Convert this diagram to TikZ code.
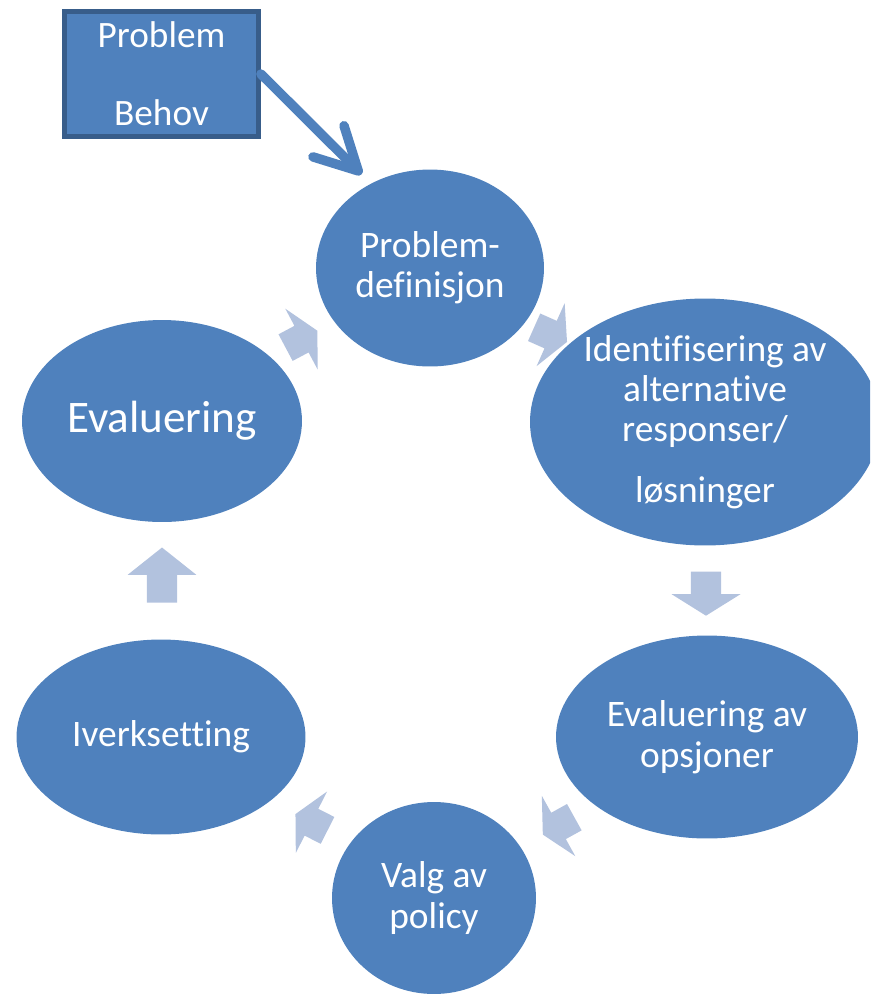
\documentclass[tikz,border=0pt]{standalone}
\usepackage{fontspec}
\setmainfont{Carlito}[Ligatures=NoCommon]
\usepackage{xcolor}
\usetikzlibrary{arrows.meta, positioning, shapes.geometric, shapes.arrows}

\definecolor{stageblue}{RGB}{79,129,189}
\definecolor{stageline}{RGB}{56,93,138}
\definecolor{cyclegray}{RGB}{178,194,222}

\begin{document}
\begin{tikzpicture}[
  x=0.02cm, y=0.02cm,
  stage/.style={ellipse, fill=stageblue, text=white, inner sep=0pt, align=center,
    font=\fontsize{21.3}{23}\selectfont},
  inbox/.style={draw=stageline, line width=2.8pt, fill=stageblue, text=white,
    minimum width=3.88cm, minimum height=2.5cm, align=center,
    font=\fontsize{21.2}{24}\selectfont},
  feed/.style={-{Straight Barb[length=8.4mm, width=8.8mm, round]}, line width=5.4pt,
    draw=stageblue, line cap=round},
  cyclearrow/.style={single arrow, fill=cyclegray, inner xsep=0pt, inner ysep=0.21cm,
    minimum width=1.38cm, single arrow head extend=0.28cm, minimum height=0.72cm,
    single arrow tip angle=125},
]

\useasboundingbox (0,0) rectangle (870,-994);
\clip (0,0) rectangle (870,-994);

% --- Input box
\node[inbox] (need) at (161.5,-74) {Problem\\[0.72cm]Behov};

% --- Stages of the cycle
\node[stage, minimum width=4.56cm, minimum height=3.94cm] (def) at (430,-268)
  {Problem-\\definisjon};
\node[stage, minimum width=7cm, minimum height=4.94cm] (ident) at (705,-422)
  {Identifisering av\\alternative\\responser/\\[0.4cm]løsninger};
\node[stage, minimum width=6.04cm, minimum height=4.06cm] (opt) at (707,-737)
  {Evaluering av\\opsjoner};
\node[stage, minimum width=4.08cm, minimum height=3.84cm] (choice) at (434,-898)
  {Valg av\\policy};
\node[stage, minimum width=5.78cm, minimum height=3.9cm] (impl) at (161,-737)
  {Iverksetting};
\node[stage, minimum width=5.6cm, minimum height=4.04cm,
  font=\fontsize{25.7}{30}\selectfont] (eval) at (162,-421) {Evaluering};

% --- Block arrows between stages
\node[cyclearrow, rotate=-24] (c1) at (547,-333) {};
\node[cyclearrow, rotate=-90, minimum height=0.88cm, single arrow tip angle=116] (c2) at (706,-589) {};
\node[cyclearrow, rotate=-151] (c3) at (562,-824) {};
\node[cyclearrow, rotate=153] (c4) at (315,-824) {};
\node[cyclearrow, rotate=90, minimum height=1.1cm, single arrow tip angle=103] (c5) at (162,-581) {};
\node[cyclearrow, rotate=28] (c6) at (298,-341) {};

% --- Input arrow
\draw[feed, shorten >=0.26cm] (need.east) -- (def.125);

\end{tikzpicture}
\end{document}
